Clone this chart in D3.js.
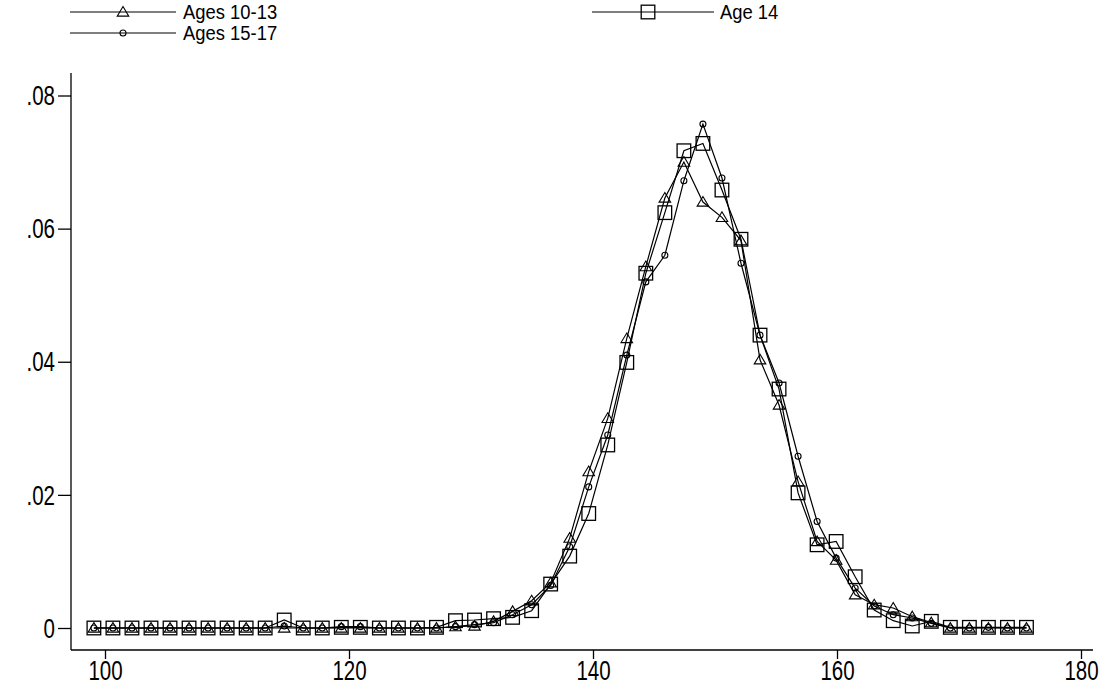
<!DOCTYPE html>
<html>
<head>
<meta charset="utf-8">
<script src="https://cdn.jsdelivr.net/npm/d3@7"></script>
<style>
  html, body { margin: 0; padding: 0; background: #fff; }
  svg text { font-family: "Liberation Sans", Arial, sans-serif; fill: #000; }
</style>
</head>
<body>
<svg id="chart" width="1111" height="691"></svg>
<script>
// ---- data ----
const xValues = [99.09,100.65,102.21,103.77,105.33,106.89,108.45,110.01,111.57,113.13,
  114.69,116.25,117.81,119.37,120.93,122.49,124.05,125.61,127.17,128.73,
  130.29,131.85,133.41,134.97,136.53,138.09,139.65,141.21,142.77,144.33,
  145.89,147.45,149.01,150.57,152.13,153.69,155.25,156.81,158.37,159.93,
  161.49,163.05,164.61,166.17,167.73,169.29,170.85,172.41,173.97,175.53];

const ages10to13 = [0,0,0,0,0,0,0,0,0,0,
  0,0,0,0,0,0,0,0,0,0.0002,
  0.0003,0.0010,0.0025,0.0041,0.0068,0.0135,0.0235,0.0315,0.0435,0.0543,
  0.0646,0.0700,0.0640,0.0617,0.0582,0.0403,0.0335,0.0220,0.0130,0.0102,
  0.0050,0.0035,0.0030,0.0017,0.0008,0,0,0,0,0];

const age14 = [0,0,0,0,0,0,0,0,0,0,
  0.0012,0,0,0.0001,0.0001,0,0,0,0.0001,0.0011,
  0.0012,0.0014,0.0016,0.0026,0.0066,0.0108,0.0172,0.0275,0.0399,0.0533,
  0.0624,0.0717,0.0728,0.0658,0.0584,0.0440,0.0359,0.0203,0.0125,0.0130,
  0.0077,0.0027,0.0011,0.0003,0.0010,0.0001,0.0001,0.0001,0.0001,0.0001];

const ages15to17 = [0,0,0,0,0,0,0,0,0,0,
  0.0003,0,0,0.0002,0.0002,0,0,0,0,0.0002,
  0.0005,0.0008,0.0020,0.0035,0.0064,0.0122,0.0212,0.0290,0.0410,0.0520,
  0.0560,0.0672,0.0757,0.0676,0.0548,0.0440,0.0368,0.0258,0.0160,0.0105,
  0.0060,0.0033,0.0020,0.0015,0.0007,0,0,0.0001,0,0];

const seriesNames = ["Ages 10-13", "Age 14", "Ages 15-17"];
const seriesSymbols = ["triangle", "square", "circle"];
const xTicks = [100, 120, 140, 160, 180];
const yTicks = [0, 0.02, 0.04, 0.06, 0.08];
const yTickLabels = ["0", ".02", ".04", ".06", ".08"];

// ---- drawing ----
const svg = d3.select("#chart");
const axisLeftX = 71, axisBottomY = 650, axisTopY = 73, axisRightX = 1093;
const squeeze = 0.76;

const x = d3.scaleLinear().domain([100, 180]).range([105, 1081]);
const y = d3.scaleLinear().domain([0, 0.08]).range([628, 95.5]);

function condense(sel, k) {
  sel.each(function () {
    const w = this.getComputedTextLength();
    d3.select(this).attr("textLength", w * k).attr("lengthAdjust", "spacingAndGlyphs");
  });
}

// axes
const g = svg.append("g");
g.append("line").attr("x1", axisLeftX).attr("x2", axisLeftX)
  .attr("y1", axisTopY).attr("y2", axisBottomY).attr("stroke", "#000").attr("stroke-width", 1.3);
g.append("line").attr("x1", axisLeftX).attr("x2", axisRightX)
  .attr("y1", axisBottomY).attr("y2", axisBottomY).attr("stroke", "#000").attr("stroke-width", 1.3);

const yAxis = d3.axisLeft(y).tickValues(yTicks).tickSize(13).tickPadding(3)
  .tickFormat((d, i) => yTickLabels[i]);
const ya = svg.append("g").attr("transform", `translate(${axisLeftX},0)`).call(yAxis);
ya.select(".domain").remove();
ya.selectAll("line").attr("stroke", "#000").attr("stroke-width", 1.3);
ya.selectAll("text").attr("font-size", 27).attr("dy", "0.34em").style("font-family", null);
condense(ya.selectAll("text"), squeeze);

const xAxis = d3.axisBottom(x).tickValues(xTicks).tickSize(9).tickPadding(3);
const xa = svg.append("g").attr("transform", `translate(0,${axisBottomY})`).call(xAxis);
xa.select(".domain").remove();
xa.selectAll("line").attr("stroke", "#000").attr("stroke-width", 1.3);
xa.selectAll("text").attr("font-size", 27).attr("dy", "0.68em").style("font-family", null);
condense(xa.selectAll("text"), squeeze);

// symbols
function drawSymbol(sel, type, cx, cy) {
  if (type === "triangle") {
    const s = 5.5;
    sel.append("path")
      .attr("d", `M${cx},${cy - s} L${cx + s * 1.05},${cy + s * 0.75} L${cx - s * 1.05},${cy + s * 0.75} Z`)
      .attr("fill", "none").attr("stroke", "#000").attr("stroke-width", 1.1);
  } else if (type === "square") {
    const s = 6.8;
    sel.append("rect").attr("x", cx - s).attr("y", cy - s).attr("width", 2 * s).attr("height", 2 * s)
      .attr("fill", "none").attr("stroke", "#000").attr("stroke-width", 1.3);
  } else {
    sel.append("circle").attr("cx", cx).attr("cy", cy).attr("r", 3)
      .attr("fill", "none").attr("stroke", "#000").attr("stroke-width", 1.1);
  }
}

const allSeries = [ages10to13, age14, ages15to17];
const line = d3.line().x(d => x(d[0])).y(d => y(d[1]));

allSeries.forEach((vals, k) => {
  const pts = xValues.map((xv, i) => [xv, vals[i]]);
  const sg = svg.append("g");
  sg.append("path").datum(pts).attr("d", line)
    .attr("fill", "none").attr("stroke", "#000").attr("stroke-width", 1.2);
  pts.forEach(p => drawSymbol(sg, seriesSymbols[k], x(p[0]), y(p[1])));
});

// legend
const legendItems = [
  { name: seriesNames[0], sym: seriesSymbols[0], x0: 70, x1: 176, sx: 123, tx: 183, ly: 12 },
  { name: seriesNames[1], sym: seriesSymbols[1], x0: 592, x1: 714, sx: 648, tx: 720, ly: 12 },
  { name: seriesNames[2], sym: seriesSymbols[2], x0: 70, x1: 176, sx: 123, tx: 183, ly: 33 }
];
const lg = svg.append("g");
legendItems.forEach(it => {
  lg.append("line").attr("x1", it.x0).attr("x2", it.x1).attr("y1", it.ly).attr("y2", it.ly)
    .attr("stroke", "#000").attr("stroke-width", 1.1);
  drawSymbol(lg, it.sym, it.sx, it.ly);
  const t = lg.append("text").attr("x", it.tx).attr("y", it.ly).attr("dy", "0.33em")
    .attr("font-size", 20).text(it.name);
  condense(t, 0.92);
});
</script>
</body>
</html>
